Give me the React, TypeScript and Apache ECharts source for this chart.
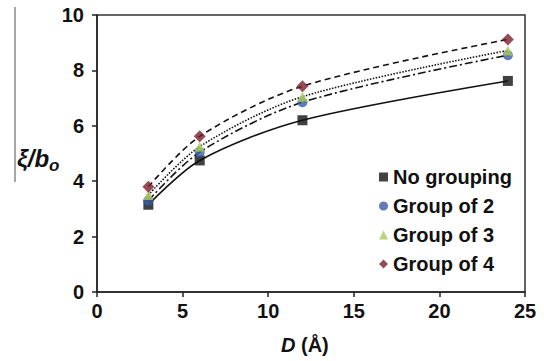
import React, { useEffect, useRef } from "react";
import * as echarts from "echarts";

const xValues = [3, 6, 12, 24];
const noGrouping = [3.15, 4.75, 6.2, 7.62];
const groupOf2 = [3.3, 5.05, 6.85, 8.55];
const groupOf3 = [3.5, 5.25, 7.05, 8.72];
const groupOf4 = [3.8, 5.62, 7.43, 9.12];
const seriesNames = ["No grouping", "Group of 2", "Group of 3", "Group of 4"];
const xTicks = [0, 5, 10, 15, 20, 25];
const yTicks = [0, 2, 4, 6, 8, 10];

const FONT = "Liberation Sans, Arial, sans-serif";

export default function App() {
  const ref = useRef<HTMLDivElement>(null);
  useEffect(() => {
    if (!ref.current) return;
    const chart = echarts.init(ref.current, undefined, { renderer: "svg" });
    const pairs = (ys: number[]) => xValues.map((x, i) => [x, ys[i]]);
    const all = [noGrouping, groupOf2, groupOf3, groupOf4];
    const colors = ["#111111", "#3a5da8", "#a9c957", "#7a1f2b"];
    const symbols = ["rect", "circle", "triangle", "diamond"];
    const lineTypes: any[] = ["solid", [8, 3, 2, 3], [1.5, 1.5], [6, 4]];
    const series: any[] = [];
    all.forEach((ys, i) => {
      series.push({
        name: "fit" + i,
        type: "line",
        data: pairs(ys),
        smooth: 0.3,
        showSymbol: false,
        symbol: "none",
        silent: true,
        lineStyle: { color: "#111", width: 1.6, type: lineTypes[i] },
        z: 2,
      });
    });
    all.forEach((ys, i) => {
      series.push({
        name: seriesNames[i],
        type: "scatter",
        data: pairs(ys),
        symbol: symbols[i],
        symbolSize: i === 0 ? 10 : i === 3 ? 12 : 10,
        itemStyle: { color: colors[i] },
        z: 3,
      });
    });
    chart.setOption({
      animation: false,
      grid: {
        left: 97,
        right: 19,
        top: 15,
        bottom: 69,
        show: true,
        borderColor: "#333",
        borderWidth: 1.5,
      },
      legend: {
        data: seriesNames.map((n, i) => ({ name: n, icon: symbols[i] })),
        orient: "vertical",
        left: 374,
        top: 162,
        itemWidth: 9,
        itemHeight: 9,
        itemGap: 9,
        textStyle: { fontFamily: FONT, fontWeight: "bold", fontSize: 20, color: "#111" },
      },
      xAxis: {
        type: "value",
        min: 0,
        max: 25,
        interval: 5,
        axisLine: { show: true, lineStyle: { color: "#222", width: 1.5 } },
        axisTick: { show: true, inside: false, length: 5, lineStyle: { color: "#222", width: 1.5 } },
        splitLine: { show: false },
        axisLabel: {
          margin: 9,
          fontFamily: FONT,
          fontWeight: "bold",
          fontSize: 20,
          color: "#111",
          formatter: (v: number) => (xTicks.includes(v) ? String(v) : ""),
        },
      },
      yAxis: {
        type: "value",
        min: 0,
        max: 10,
        interval: 2,
        axisLine: { show: true, lineStyle: { color: "#222", width: 1.5 } },
        axisTick: { show: true, inside: false, length: 5, lineStyle: { color: "#222", width: 1.5 } },
        splitLine: { show: false },
        axisLabel: {
          margin: 13,
          fontFamily: FONT,
          fontWeight: "bold",
          fontSize: 20,
          color: "#111",
          formatter: (v: number) => (yTicks.includes(v) ? String(v) : ""),
        },
      },
      graphic: [
        {
          type: "line",
          shape: { x1: 15, y1: 7, x2: 15, y2: 182 },
          style: { stroke: "#888", lineWidth: 1.5 },
        },
        {
          type: "text",
          left: 17,
          top: 146,
          style: {
            text: "{a|ξ/b}{s|o}",
            rich: {
              a: { fontFamily: FONT, fontStyle: "italic", fontWeight: "bold", fontSize: 24, fill: "#111" },
              s: { fontFamily: FONT, fontStyle: "italic", fontWeight: "bold", fontSize: 17, fill: "#111", padding: [14, 0, 0, 0] },
            },
          },
        },
        {
          type: "text",
          left: 281,
          top: 335,
          style: {
            text: "{d|D}{t| (Å)}",
            rich: {
              d: { fontFamily: FONT, fontStyle: "italic", fontWeight: "bold", fontSize: 20, fill: "#111" },
              t: { fontFamily: FONT, fontWeight: "bold", fontSize: 20, fill: "#111" },
            },
          },
        },
      ],
      series,
    });
    return () => chart.dispose();
  }, []);
  return <div ref={ref} style={{ width: 544, height: 361, position: "absolute", left: 0, top: 0 }} />;
}
